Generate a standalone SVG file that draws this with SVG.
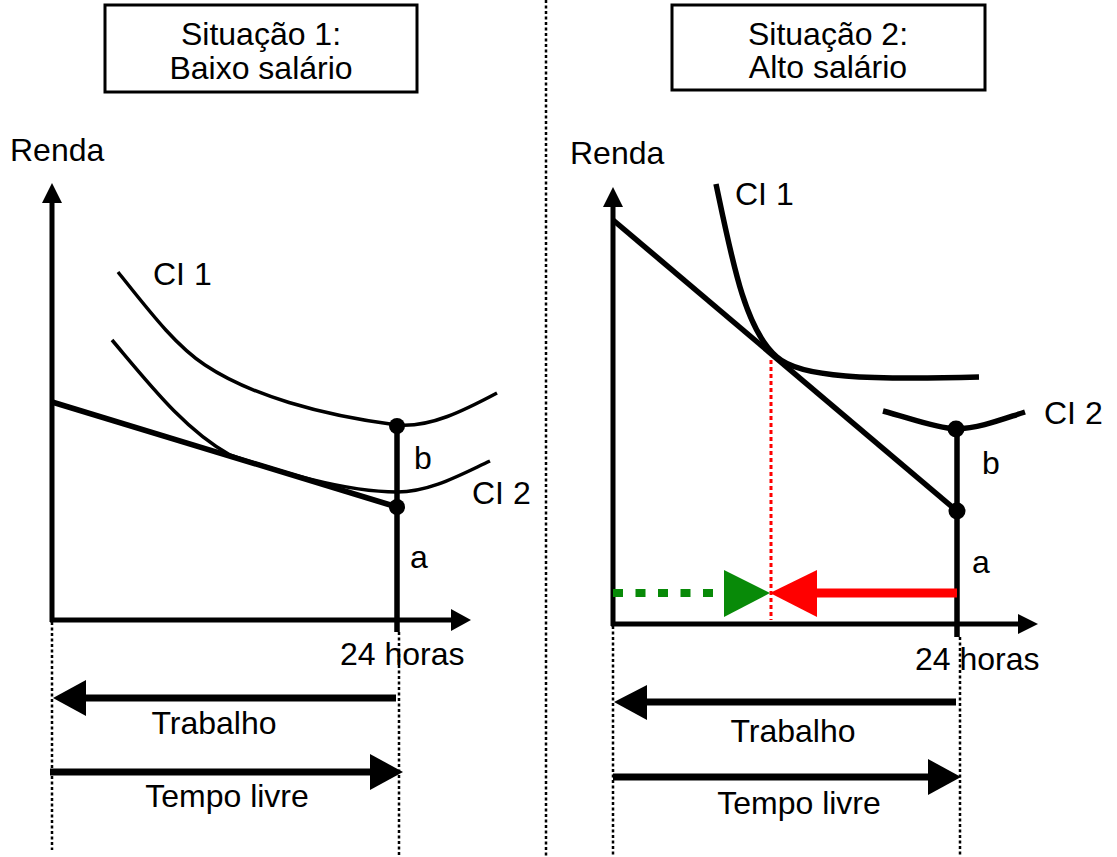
<svg xmlns="http://www.w3.org/2000/svg" width="1117" height="857" viewBox="0 0 1117 857">
<style>
text{font-family:"Liberation Sans",Arial,sans-serif;font-size:32px;fill:#000}
.box{fill:#fff;stroke:#000;stroke-width:3}
.ax{stroke:#000;stroke-width:5;fill:none}
.thin{stroke:#000;stroke-width:3.5;fill:none}
.thick{stroke:#000;stroke-width:5.5;fill:none}
.dot{stroke:#000;stroke-width:2.5;stroke-dasharray:3 2.5;fill:none}
.head{fill:#000}
.mid{text-anchor:middle}
</style>
<rect width="1117" height="857" fill="#fff"/>
<g id="divider"><line class="dot" x1="546" y1="0" x2="546" y2="857"/></g>

<g id="box1"><rect class="box" x="105" y="5" width="312" height="87"/>
<text class="mid" x="261" y="45">Situação 1:</text><text class="mid" x="261" y="79">Baixo salário</text></g>
<g id="box2"><rect class="box" x="672" y="5" width="313" height="85"/>
<text class="mid" x="828" y="45">Situação 2:</text><text class="mid" x="828" y="78">Alto salário</text></g>

<g id="left-axes">
<line class="ax" x1="52" y1="622" x2="52" y2="200"/><polygon class="head" points="52,183 42,203 62,203"/>
<line class="ax" x1="50" y1="620" x2="455" y2="620"/><polygon class="head" points="471,620 451,609 451,631"/>
<text x="10" y="161">Renda</text>
<text x="340" y="665">24 horas</text>
</g>
<g id="left-curves">
<path class="thin" d="M118,272 C150,312 175,345 205,365 C250,395 320,415 397,425 C430,428 465,410 497,393"/>
<path class="thin" d="M112,340 C150,385 185,430 230,455 C270,468 340,492 397,492 C430,492 460,475 490,461"/>
<line class="thick" x1="52" y1="402" x2="397" y2="507"/>
<line class="thick" x1="397" y1="426" x2="397" y2="632"/>
<circle cx="397" cy="426" r="8"/><circle cx="397" cy="507" r="8"/>
<text x="153" y="285">CI 1</text><text x="414" y="469">b</text><text x="472" y="504">CI 2</text><text x="410" y="568">a</text>
</g>
<g id="left-bottom">
<line class="dot" x1="52" y1="622" x2="52" y2="850"/><line class="dot" x1="399" y1="632" x2="399" y2="857"/>
<line class="ax" x1="396" y1="698" x2="80" y2="698" style="stroke-width:7"/><polygon class="head" points="53,698 86,680 86,716"/>
<line class="ax" x1="50" y1="772" x2="375" y2="772" style="stroke-width:7"/><polygon class="head" points="403,772 370,754 370,790"/>
<text class="mid" x="214" y="734">Trabalho</text><text class="mid" x="227" y="807">Tempo livre</text>
</g>

<g id="right-axes">
<line class="ax" x1="613" y1="626" x2="613" y2="205"/><polygon class="head" points="613,187 603,207 623,207"/>
<line class="ax" x1="611" y1="624" x2="1022" y2="624"/><polygon class="head" points="1038,624 1018,614 1018,634"/>
<text x="570" y="164">Renda</text>
<text x="915" y="670">24 horas</text>
</g>
<g id="right-curves">
<line x1="771" y1="360" x2="771" y2="620" stroke="#f00" stroke-width="3" stroke-dasharray="4 3"/>
<path class="thick" d="M716,184 C732,260 745,330 777,357 C800,378 870,380 979,377"/>
<path class="thick" d="M883,411 C910,418 935,428 956,429 C980,428 1000,420 1025,412"/>
<line class="thick" x1="613" y1="220" x2="957" y2="511"/>
<line class="thick" x1="957" y1="429" x2="957" y2="637"/>
<circle cx="956" cy="429" r="8.5"/><circle cx="957" cy="511" r="8.5"/>
<text x="735" y="205">CI 1</text><text x="1044" y="424">CI 2</text><text x="982" y="474">b</text><text x="972" y="573">a</text>
</g>
<g id="right-shift">
<line x1="613" y1="593" x2="716" y2="593" stroke="#088a08" stroke-width="8" stroke-dasharray="10 12.5"/>
<polygon fill="#088a08" points="770,593 724,570 724,617"/>
<line x1="957" y1="593" x2="812" y2="593" stroke="#f00" stroke-width="9"/>
<polygon fill="#f00" points="770,593 817,570 817,617"/>
</g>
<g id="right-bottom">
<line class="dot" x1="613" y1="626" x2="613" y2="857"/><line class="dot" x1="960" y1="637" x2="960" y2="857"/>
<line class="ax" x1="956" y1="702" x2="640" y2="702" style="stroke-width:7"/><polygon class="head" points="614,702 647,685 647,720"/>
<line class="ax" x1="613" y1="777" x2="933" y2="777" style="stroke-width:7"/><polygon class="head" points="961,777 928,759 928,795"/>
<text class="mid" x="793" y="742">Trabalho</text><text class="mid" x="799" y="814">Tempo livre</text>
</g>
</svg>
